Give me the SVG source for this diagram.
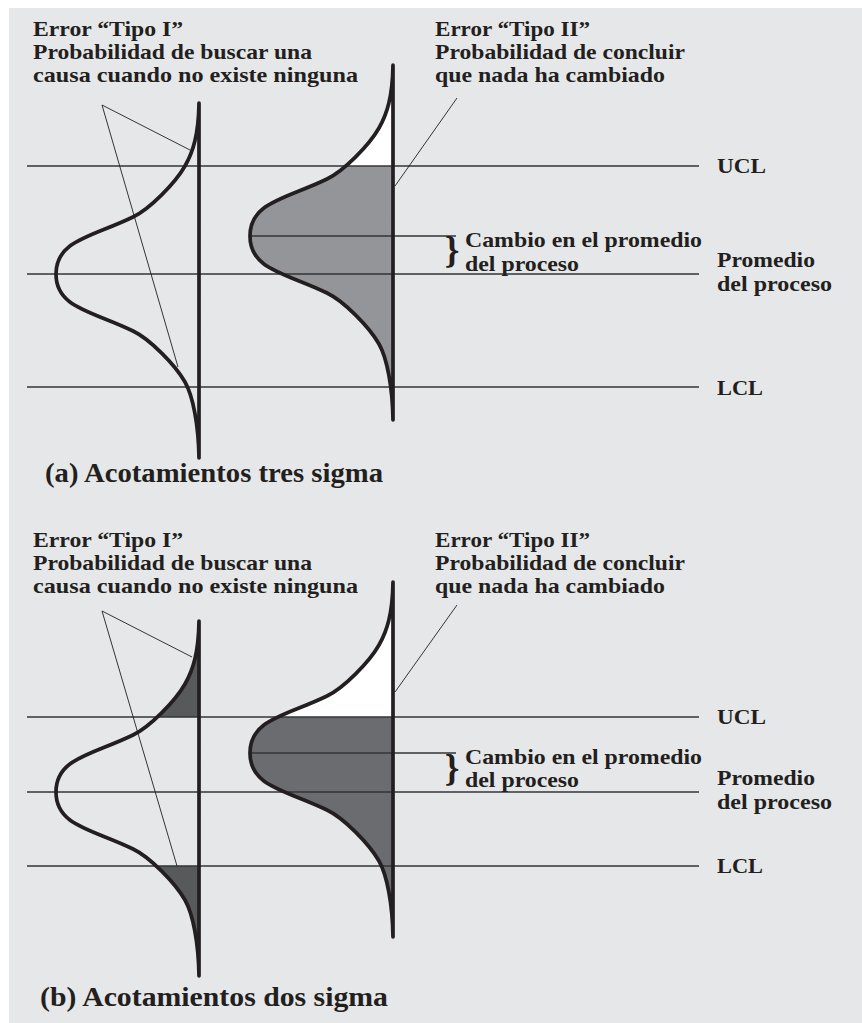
<svg xmlns="http://www.w3.org/2000/svg" width="862" height="1023" viewBox="0 0 862 1023">
<style>
.t{font-family:"Liberation Serif","Times New Roman",serif;font-weight:bold;fill:#231f20;font-size:21px}
.ttl{font-size:28px}
.brace{font-size:37px}
.lim{stroke:#333436;stroke-width:1.3;fill:none}
.lead{stroke:#231f20;stroke-width:0.9;fill:none}
.bellst{fill:none;stroke:#231f20;stroke-width:3.7;stroke-linejoin:round}
</style>
<defs>
<path id="bell" d="M0,-171 C-0.5,-139 -6,-122 -14,-108 C-23.7,-91 -49.2,-65 -66,-57 C-107,-37 -143,-34 -143,0 C-143,34 -107,37 -66,57 C-49.2,65 -23.7,91 -14,108 C-6,122 -0.5,151 0,184 Z"/>
<clipPath id="aboveUCLa"><rect x="0" y="0" width="862" height="166"/></clipPath>
<clipPath id="belowUCLa"><rect x="0" y="166" width="862" height="320"/></clipPath>
<clipPath id="aboveUCLb"><rect x="0" y="500" width="862" height="217"/></clipPath>
<clipPath id="belowUCLb"><rect x="0" y="717" width="862" height="306"/></clipPath>
<clipPath id="belowLCLb"><rect x="0" y="866" width="862" height="157"/></clipPath>
</defs>
<rect x="0" y="0" width="862" height="1023" fill="#ffffff"/>
<rect id="bg" x="9" y="8" width="853" height="1015" fill="#e6e7e8"/>

<g id="fills">
<g clip-path="url(#aboveUCLa)"><use href="#bell" transform="translate(393,236)" fill="#ffffff"/></g>
<g clip-path="url(#belowUCLa)"><use href="#bell" transform="translate(393,236)" fill="#939598"/></g>
<g clip-path="url(#aboveUCLb)"><use href="#bell" transform="translate(199,792)" fill="#58595b"/></g>
<g clip-path="url(#belowLCLb)"><use href="#bell" transform="translate(199,792)" fill="#58595b"/></g>
<g clip-path="url(#aboveUCLb)"><use href="#bell" transform="translate(393,753)" fill="#ffffff"/></g>
<g clip-path="url(#belowUCLb)"><use href="#bell" transform="translate(393,753)" fill="#6b6c6f"/></g>
</g>

<g id="limit-lines">
<line class="lim" x1="27" y1="166" x2="699" y2="166"/>
<line class="lim" x1="27" y1="274" x2="699" y2="274"/>
<line class="lim" x1="27" y1="387" x2="699" y2="387"/>
<line class="lim" x1="250" y1="236" x2="456" y2="236"/>
<line class="lim" x1="27" y1="717" x2="699" y2="717"/>
<line class="lim" x1="27" y1="792" x2="699" y2="792"/>
<line class="lim" x1="27" y1="866" x2="699" y2="866"/>
<line class="lim" x1="250" y1="753" x2="456" y2="753"/>
</g>

<g id="curve-a-left"><use class="bellst" href="#bell" transform="translate(199,274)"/></g>
<g id="curve-a-right"><use class="bellst" href="#bell" transform="translate(393,236)"/></g>
<g id="curve-b-left"><use class="bellst" href="#bell" transform="translate(199,792)"/></g>
<g id="curve-b-right"><use class="bellst" href="#bell" transform="translate(393,753)"/></g>

<g id="connectors">
<polyline class="lead" points="190,150 102,105 178,367"/>
<line class="lead" x1="457" y1="98" x2="395" y2="186"/>
<polyline class="lead" points="192,657 102,611 177,866"/>
<line class="lead" x1="457" y1="605" x2="395" y2="692"/>
</g>

<g id="label-typeI-a">
<text class="t" x="33" y="36" textLength="150" lengthAdjust="spacingAndGlyphs">Error “Tipo I”</text>
<text class="t" x="33" y="59" textLength="279" lengthAdjust="spacingAndGlyphs">Probabilidad de buscar una</text>
<text class="t" x="33" y="82" textLength="325" lengthAdjust="spacingAndGlyphs">causa cuando no existe ninguna</text>
</g>
<g id="label-typeII-a">
<text class="t" x="435" y="36" textLength="155" lengthAdjust="spacingAndGlyphs">Error “Tipo II”</text>
<text class="t" x="435" y="59" textLength="250" lengthAdjust="spacingAndGlyphs">Probabilidad de concluir</text>
<text class="t" x="435" y="82" textLength="230" lengthAdjust="spacingAndGlyphs">que nada ha cambiado</text>
</g>
<g id="label-shift-a">
<text class="t brace" x="452" y="263" text-anchor="middle">}</text>
<text class="t" x="465" y="247" textLength="237" lengthAdjust="spacingAndGlyphs">Cambio en el promedio</text>
<text class="t" x="465" y="271" textLength="114" lengthAdjust="spacingAndGlyphs">del proceso</text>
</g>
<g id="label-limits-a">
<text class="t" x="717" y="173" textLength="49" lengthAdjust="spacingAndGlyphs">UCL</text>
<text class="t" x="717" y="267" textLength="98" lengthAdjust="spacingAndGlyphs">Promedio</text>
<text class="t" x="717" y="291" textLength="115" lengthAdjust="spacingAndGlyphs">del proceso</text>
<text class="t" x="717" y="395" textLength="46" lengthAdjust="spacingAndGlyphs">LCL</text>
</g>
<g id="title-a">
<text class="t ttl" x="45" y="482" textLength="338" lengthAdjust="spacingAndGlyphs">(a) Acotamientos tres sigma</text>
</g>

<g id="label-typeI-b">
<text class="t" x="33" y="547" textLength="150" lengthAdjust="spacingAndGlyphs">Error “Tipo I”</text>
<text class="t" x="33" y="570" textLength="279" lengthAdjust="spacingAndGlyphs">Probabilidad de buscar una</text>
<text class="t" x="33" y="593" textLength="325" lengthAdjust="spacingAndGlyphs">causa cuando no existe ninguna</text>
</g>
<g id="label-typeII-b">
<text class="t" x="435" y="547" textLength="155" lengthAdjust="spacingAndGlyphs">Error “Tipo II”</text>
<text class="t" x="435" y="570" textLength="250" lengthAdjust="spacingAndGlyphs">Probabilidad de concluir</text>
<text class="t" x="435" y="593" textLength="230" lengthAdjust="spacingAndGlyphs">que nada ha cambiado</text>
</g>
<g id="label-shift-b">
<text class="t brace" x="452" y="781" text-anchor="middle">}</text>
<text class="t" x="465" y="764" textLength="237" lengthAdjust="spacingAndGlyphs">Cambio en el promedio</text>
<text class="t" x="465" y="787" textLength="114" lengthAdjust="spacingAndGlyphs">del proceso</text>
</g>
<g id="label-limits-b">
<text class="t" x="717" y="724" textLength="49" lengthAdjust="spacingAndGlyphs">UCL</text>
<text class="t" x="717" y="785" textLength="98" lengthAdjust="spacingAndGlyphs">Promedio</text>
<text class="t" x="717" y="809" textLength="115" lengthAdjust="spacingAndGlyphs">del proceso</text>
<text class="t" x="717" y="873" textLength="46" lengthAdjust="spacingAndGlyphs">LCL</text>
</g>
<g id="title-b">
<text class="t ttl" x="40" y="1006" textLength="348" lengthAdjust="spacingAndGlyphs">(b) Acotamientos dos sigma</text>
</g>
</svg>
